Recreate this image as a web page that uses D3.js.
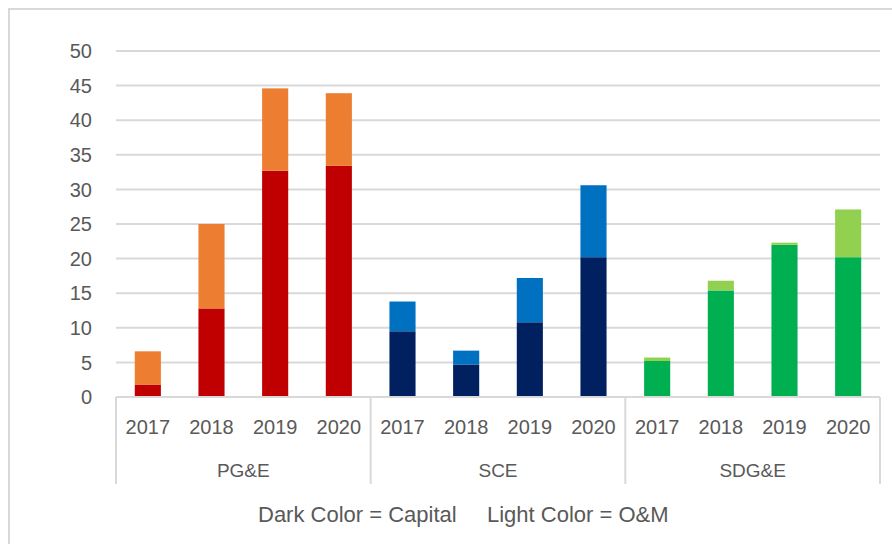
<!DOCTYPE html>
<html><head><meta charset="utf-8">
<script src="https://cdn.jsdelivr.net/npm/d3@7"></script>
<style>
html,body{margin:0;padding:0;background:#fff;}
text{font-family:"Liberation Sans",Arial,sans-serif;fill:#595959;}
</style></head>
<body>
<svg id="chart" width="892" height="544"></svg>
<script>
const companies = ["PG&E", "SCE", "SDG&E"];
const years = ["2017", "2018", "2019", "2020"];
const capital = {
  "PG&E":  [1.8, 12.8, 32.7, 33.4],
  "SCE":   [9.5, 4.7, 10.8, 20.2],
  "SDG&E": [5.2, 15.4, 22.0, 20.2]
};
const om = {
  "PG&E":  [4.8, 12.2, 11.9, 10.5],
  "SCE":   [4.3, 2.0, 6.4, 10.4],
  "SDG&E": [0.5, 1.4, 0.3, 6.9]
};
const darkColors = ["#C00000", "#002060", "#00B050"];
const lightColors = ["#ED7D31", "#0070C0", "#92D050"];
const yTicks = [0, 5, 10, 15, 20, 25, 30, 35, 40, 45, 50];
const legendText = ["Dark Color = Capital", "Light Color = O&M"];

const svg = d3.select("#chart");
const grid = "#d9d9d9";

// frame
svg.append("rect").attr("x", 9).attr("y", 9).attr("width", 1000).attr("height", 800)
  .attr("fill", "#fff").attr("stroke", grid).attr("stroke-width", 2);

const pLeft = 116, pRight = 880, pTop = 51, pBottom = 397;
const cats = [];
companies.forEach(c => years.forEach(yr => cats.push(c + "|" + yr)));

const x = d3.scaleBand().domain(cats).range([pLeft, pRight]).paddingInner(0.59).paddingOuter(0.295);
const y = d3.scaleLinear().domain([0, 50]).range([pBottom, pTop]);

// gridlines
svg.append("g").selectAll("line").data(yTicks.filter(t => t > 0)).join("line")
  .attr("x1", pLeft).attr("x2", pRight)
  .attr("y1", d => y(d)).attr("y2", d => y(d))
  .attr("stroke", grid).attr("stroke-width", 2);

// y labels
svg.append("g").selectAll("text").data(yTicks).join("text")
  .attr("x", 92).attr("y", d => y(d)).attr("dy", "0.36em")
  .attr("text-anchor", "end").attr("font-size", 20).text(d => d);

// bars
const rows = [];
companies.forEach((c, ci) => years.forEach((yr, yi) => {
  rows.push({key: c + "|" + yr, c, ci, cap: capital[c][yi], om: om[c][yi]});
}));
const g = svg.append("g");
g.selectAll("rect.cap").data(rows).join("rect").attr("class", "cap")
  .attr("x", d => x(d.key)).attr("width", x.bandwidth())
  .attr("y", d => y(d.cap)).attr("height", d => y(0) - y(d.cap))
  .attr("fill", d => darkColors[d.ci]);
g.selectAll("rect.om").data(rows).join("rect").attr("class", "om")
  .attr("x", d => x(d.key)).attr("width", x.bandwidth())
  .attr("y", d => y(d.cap + d.om)).attr("height", d => y(d.cap) - y(d.cap + d.om))
  .attr("fill", d => lightColors[d.ci]);

// x axis line
svg.append("line").attr("x1", pLeft).attr("x2", pRight).attr("y1", pBottom).attr("y2", pBottom)
  .attr("stroke", grid).attr("stroke-width", 2);

// separators
const step = x.step();
const seps = [0, 4, 8, 12].map(i => pLeft + i * step);
svg.append("g").selectAll("line").data(seps).join("line")
  .attr("x1", d => d).attr("x2", d => d).attr("y1", pBottom).attr("y2", 484)
  .attr("stroke", grid).attr("stroke-width", 2);

// year labels
svg.append("g").selectAll("text").data(rows).join("text")
  .attr("x", d => x(d.key) + x.bandwidth() / 2).attr("y", 434)
  .attr("text-anchor", "middle").attr("font-size", 20).text(d => d.key.split("|")[1]);

// company labels
svg.append("g").selectAll("text").data(companies).join("text")
  .attr("x", (d, i) => pLeft + (i * 4 + 2) * step).attr("y", 477)
  .attr("text-anchor", "middle").attr("font-size", 19).text(d => d);

// legend text
svg.append("text").attr("x", 258).attr("y", 522).attr("font-size", 22).text(legendText[0]);
svg.append("text").attr("x", 487).attr("y", 522).attr("font-size", 22).text(legendText[1]);
</script>
</body></html>
